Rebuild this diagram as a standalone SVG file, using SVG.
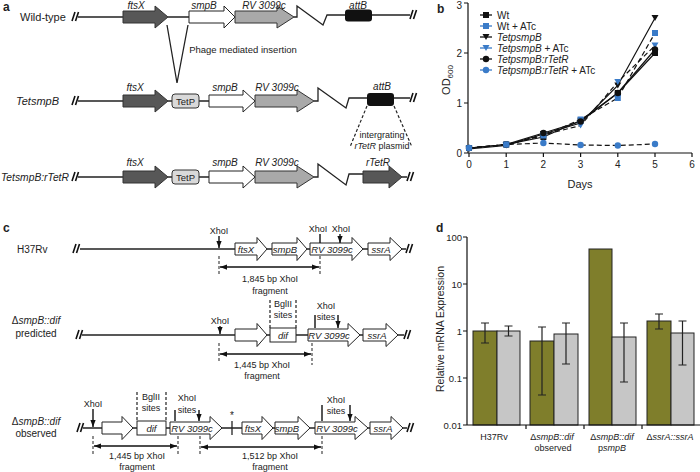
<svg xmlns="http://www.w3.org/2000/svg" width="700" height="472" viewBox="0 0 700 472">
<defs>
<marker id="ah" viewBox="0 0 8 6" refX="8" refY="3" markerWidth="7" markerHeight="5.5" markerUnits="userSpaceOnUse" orient="auto-start-reverse"><path d="M0,0 L8,3 L0,6 Z" fill="#111"/></marker>
<style>
text{font-family:"Liberation Sans",Arial,sans-serif;fill:#222}
.pl{font-size:12px;font-weight:bold}
.rl{font-size:11px}
.gl{font-size:10px;font-style:italic}
.s{font-size:9px}
.m{text-anchor:middle}
.e{text-anchor:end}
.it{font-style:italic}
.ln{stroke:#222;stroke-width:1.3;fill:none}
.brk{stroke:#111;stroke-width:1.6;fill:none}
.dk{fill:#575757;stroke:#333;stroke-width:1}
.wh{fill:#fff;stroke:#222;stroke-width:1}
.gy{fill:#a9a9a9;stroke:#333;stroke-width:1}
.ds{stroke:#222;stroke-width:1.2;stroke-dasharray:3,2;fill:none}
.dsg{stroke:#555;stroke-width:1.3;stroke-dasharray:3,2;fill:none}
.arr{stroke:#111;stroke-width:1.4;fill:none;marker-end:url(#ah)}
.darr{stroke:#111;stroke-width:1.4;fill:none;marker-end:url(#ah);marker-start:url(#ah)}
.ax{stroke:#111;stroke-width:1.2;fill:none}
.dl{stroke:#111;stroke-width:1.2;fill:none}
.dd{stroke:#111;stroke-width:1.2;fill:none;stroke-dasharray:5,3}
.bk{fill:#111}
.bl{fill:#3a7bc8}
.ol{fill:#7f7e2b;stroke:#222;stroke-width:1}
.gr{fill:#c6c6c6;stroke:#222;stroke-width:1}
.eb{stroke:#222;stroke-width:1.2;fill:none}
</style>
</defs>

<!-- Panel a -->
<g id="panel-a">
<text class="pl" x="3" y="11">a</text>
<g id="a-row1">
<text class="rl" x="20" y="21">Wild-type</text>
<path class="brk" d="M72,21 L75,12 M75.5,21 L78.5,12"/>
<path class="ln" d="M78,17 H123 M168,17 H189 M294,17 H297 V6 L323,25 L327,15 H345 M372,15 H410"/>
<path class="brk" d="M410,19 L413,10 M413.5,19 L416.5,10"/>
<path class="dk" d="M123,11 H155 V6 L168,17 L155,28 V23 H123 Z"/>
<path class="wh" d="M189,11 H224 V6 L235,17 L224,28 V23 H189 Z"/>
<path class="gy" d="M235,11 H277 V6 L294,17 L277,28 V23 H235 Z"/>
<rect x="345" y="9.5" width="27" height="12" rx="3" fill="#111"/>
<text class="gl m" x="136" y="9">ftsX</text>
<text class="gl m" x="204" y="9">smpB</text>
<text class="gl m" x="264" y="9">RV 3099c</text>
<text class="gl m" x="358" y="9">attB</text>
</g>
<g id="a-insertion">
<path class="ln" d="M167,25 L177,83 L188,25"/>
<text class="s m" x="243" y="53" style="font-size:9.5px">Phage mediated insertion</text>
</g>
<g id="a-row2">
<text class="rl it" x="16" y="105">TetsmpB</text>
<path class="brk" d="M72,105 L75,96 M75.5,105 L78.5,96"/>
<path class="ln" d="M78,101 H123 M168,101 H172 M199,101 H209 M314,101 H318 V88 L346,108 L349,98 H367 M394,98 H410"/>
<path class="brk" d="M410,102 L413,93 M413.5,102 L416.5,93"/>
<path class="dk" d="M123,95 H155 V90 L168,101 L155,112 V107 H123 Z"/>
<rect x="172" y="94" width="27" height="14" rx="3" fill="#d9d9d9" stroke="#333"/>
<text class="s m" x="185.5" y="104.5" style="font-size:9.5px">TetP</text>
<path class="wh" d="M209,95 H243 V90 L255,101 L243,112 V107 H209 Z"/>
<path class="gy" d="M255,95 H297 V90 L314,101 L297,112 V107 H255 Z"/>
<rect x="367" y="93" width="27" height="13" rx="3" fill="#111"/>
<text class="gl m" x="135" y="91">ftsX</text>
<text class="gl m" x="225" y="91">smpB</text>
<text class="gl m" x="277" y="91">RV 3099c</text>
<text class="gl m" x="382" y="90">attB</text>
<path class="ds" d="M367,106 L350,147 M394,106 L412,147"/>
<text class="s m" x="382" y="138">intergrating</text>
<text class="s m" x="382" y="149"><tspan class="it">rTetR</tspan> plasmid</text>
</g>
<g id="a-row3">
<text class="it" x="1" y="181" style="font-size:10.3px">TetsmpB:rTetR</text>
<path class="brk" d="M72,181 L75,172 M75.5,181 L78.5,172"/>
<path class="ln" d="M78,177 H123 M168,177 H172 M199,177 H209 M314,177 H318 V164 L346,185 L349,174 H363 M402,177 H407"/>
<path class="brk" d="M407,181 L410,172 M410.5,181 L413.5,172"/>
<path class="dk" d="M123,171 H155 V166 L168,177 L155,188 V183 H123 Z"/>
<rect x="172" y="170" width="27" height="14" rx="3" fill="#d9d9d9" stroke="#333"/>
<text class="s m" x="185.5" y="180.5" style="font-size:9.5px">TetP</text>
<path class="wh" d="M209,171 H243 V166 L255,177 L243,188 V183 H209 Z"/>
<path class="gy" d="M255,171 H297 V166 L314,177 L297,188 V183 H255 Z"/>
<path class="dk" d="M363,171 H389 V166 L402,177 L389,188 V183 H363 Z"/>
<text class="gl m" x="135" y="166">ftsX</text>
<text class="gl m" x="225" y="166">smpB</text>
<text class="gl m" x="277" y="166">RV 3099c</text>
<text class="gl m" x="378" y="166">rTetR</text>
</g>
</g>

<!-- Panel b -->
<g id="panel-b">
<text class="pl" x="437" y="13">b</text>
<path class="ax" d="M468,3 V153 H692 M464,3 H468 M464,53 H468 M464,103 H468 M464,153 H468 M469,153 V157 M506.2,153 V157 M543.4,153 V157 M580.6,153 V157 M617.8,153 V157 M655,153 V157 M692,153 V157"/>
<g class="s" style="font-size:10px">
<text class="e" x="462" y="9">3</text><text class="e" x="462" y="57">2</text><text class="e" x="462" y="107">1</text><text class="e" x="462" y="157">0</text>
<text class="m" x="469" y="168">0</text><text class="m" x="506.2" y="168">1</text><text class="m" x="543.4" y="168">2</text><text class="m" x="580.6" y="168">3</text><text class="m" x="617.8" y="168">4</text><text class="m" x="655" y="168">5</text><text class="m" x="692" y="168">6</text>
</g>
<text class="m" x="580" y="188" style="font-size:11px">Days</text>
<text class="m" transform="translate(450,80) rotate(-90)" style="font-size:11px">OD<tspan dy="3" style="font-size:8px">600</tspan></text>
<g id="b-lines">
<polyline class="dl" points="469,148 506.2,144.5 543.4,137 580.6,120.5 617.8,93 655,53"/>
<polyline class="dd" points="469,148 506.2,144.5 543.4,135.5 580.6,119.5 617.8,98 655,33"/>
<polyline class="dl" points="469,149 506.2,145.5 543.4,134 580.6,123 617.8,85.5 655,18"/>
<polyline class="dd" points="469,148 506.2,145 543.4,135 580.6,125.5 617.8,82 655,45.5"/>
<polyline class="dl" points="469,148 506.2,144.5 543.4,133 580.6,121.5 617.8,93 655,49.5"/>
<polyline class="dd" points="469,148 506.2,144.5 543.4,143 580.6,145 617.8,145.5 655,144"/>
</g>
<g id="b-markers">
<g class="bk"><rect x="466" y="145" width="6" height="6"/><rect x="503.2" y="141.5" width="6" height="6"/><rect x="540.4" y="134" width="6" height="6"/><rect x="577.6" y="117.5" width="6" height="6"/><rect x="614.8" y="90" width="6" height="6"/><rect x="652" y="50" width="6" height="6"/></g>
<g class="bl"><rect x="466" y="145" width="6" height="6"/><rect x="503.2" y="141.5" width="6" height="6"/><rect x="540.4" y="132.5" width="6" height="6"/><rect x="577.6" y="116.5" width="6" height="6"/><rect x="614.8" y="95" width="6" height="6"/><rect x="652" y="30" width="6" height="6"/></g>
<g class="bk"><path d="M465.5,146 h7 l-3.5,6 z M502.7,142.5 h7 l-3.5,6 z M539.9,131 h7 l-3.5,6 z M577.1,120 h7 l-3.5,6 z M614.3,82.5 h7 l-3.5,6 z M651.5,15 h7 l-3.5,6 z"/></g>
<g class="bl"><path d="M465.5,145 h7 l-3.5,6 z M502.7,142 h7 l-3.5,6 z M539.9,132 h7 l-3.5,6 z M577.1,122.5 h7 l-3.5,6 z M614.3,79 h7 l-3.5,6 z M651.5,42.5 h7 l-3.5,6 z"/></g>
<g class="bk"><circle cx="469" cy="148" r="3.2"/><circle cx="506.2" cy="144.5" r="3.2"/><circle cx="543.4" cy="133" r="3.2"/><circle cx="580.6" cy="121.5" r="3.2"/><circle cx="617.8" cy="93" r="3.2"/><circle cx="655" cy="49.5" r="3.2"/></g>
<g class="bl"><circle cx="469" cy="148" r="3.2"/><circle cx="506.2" cy="144.5" r="3.2"/><circle cx="543.4" cy="143" r="3.2"/><circle cx="580.6" cy="145" r="3.2"/><circle cx="617.8" cy="145.5" r="3.2"/><circle cx="655" cy="144" r="3.2"/></g>
</g>
<g id="b-legend" style="font-size:10px">
<path d="M480,15 H492" stroke="#111" stroke-width="1.3"/><rect x="483" y="12" width="6" height="6" class="bk"/><text x="497" y="18.5" class="s" style="font-size:10px">Wt</text>
<path d="M480,26 H492" stroke="#3a7bc8" stroke-width="1.3"/><rect x="483" y="23" width="6" height="6" class="bl"/><text x="497" y="29.5" class="s" style="font-size:10px">Wt + ATc</text>
<path d="M480,37 H492" stroke="#111" stroke-width="1.3"/><path d="M482.5,34 h7 l-3.5,6 z" class="bk"/><text x="497" y="40.5" class="s it" style="font-size:10px">TetpsmpB</text>
<path d="M480,48 H492" stroke="#3a7bc8" stroke-width="1.3"/><path d="M482.5,45 h7 l-3.5,6 z" class="bl"/><text x="497" y="51.5" class="s" style="font-size:10px"><tspan class="it">TetpsmpB</tspan> + ATc</text>
<path d="M480,59 H492" stroke="#111" stroke-width="1.3"/><circle cx="486" cy="59" r="3.2" class="bk"/><text x="497" y="62.5" class="s it" style="font-size:10px">TetpsmpB:rTetR</text>
<path d="M480,70 H492" stroke="#3a7bc8" stroke-width="1.3"/><circle cx="486" cy="70" r="3.2" class="bl"/><text x="497" y="73.5" class="s" style="font-size:10px"><tspan class="it">TetpsmpB:rTetR</tspan> + ATc</text>
</g>
</g>

<!-- Panel c -->
<g id="panel-c">
<text class="pl" x="3" y="232">c</text>
<g id="c-row1">
<text class="s" x="17" y="253" style="font-size:10px">H37Rv</text>
<path class="brk" d="M73,253 L76,244 M76.5,253 L79.5,244"/>
<path class="ln" d="M80,249 H235 M267,249 H272 M307,249 H310 M363,249 H368 M402,249 H406"/>
<path class="brk" d="M406,253 L409,244 M409.5,253 L412.5,244"/>
<path class="wh" d="M235,243 H257 V237.5 L267,249 L257,260.5 V255 H235 Z"/>
<path class="wh" d="M272,243 H297 V237.5 L307,249 L297,260.5 V255 H272 Z"/>
<path class="wh" d="M310,243 H352 V237.5 L363,249 L352,260.5 V255 H310 Z"/>
<path class="wh" d="M368,243 H390 V237.5 L402,249 L390,260.5 V255 H368 Z"/>
<text class="gl m" x="246" y="252.5" style="font-size:9.5px">ftsX</text>
<text class="gl m" x="285" y="252.5" style="font-size:9.5px">smpB</text>
<text class="gl m" x="332" y="252.5" style="font-size:9.5px">RV 3099c</text>
<text class="gl m" x="381" y="252.5" style="font-size:9.5px">ssrA</text>
<text class="s m" x="219" y="234">XhoI</text>
<path class="arr" d="M219,236 V248"/>
<text class="s m" x="318" y="232">XhoI</text>
<text class="s m" x="341" y="232">XhoI</text>
<path class="arr" d="M320,234 V243 M340,234 V243"/>
<path class="dsg" d="M219,256 V275 M320,256 V275"/>
<path class="darr" d="M220,267 H319"/>
<text class="s m" x="270" y="282">1,845 bp XhoI</text>
<text class="s m" x="270" y="294">fragment</text>
</g>
<g id="c-row2">
<text class="s m" x="36" y="324" style="font-size:10px">Δ<tspan class="it">smpB::dif</tspan></text>
<text class="s m" x="36" y="337" style="font-size:10px">predicted</text>
<path class="brk" d="M76,339 L79,330 M79.5,339 L82.5,330"/>
<path class="ln" d="M82,335 H235 M267,335 H270 M296,335 H308 M360,335 H363 M398,335 H404"/>
<path class="brk" d="M404,339 L407,330 M407.5,339 L410.5,330"/>
<text class="s m" x="220" y="324">XhoI</text>
<path class="arr" d="M220,326 V334"/>
<path class="wh" d="M235,329 H257 V323.5 L267,335 L257,346.5 V341 H235 Z"/>
<rect class="wh" x="270" y="328" width="26" height="14"/>
<text class="gl m" x="283" y="338.5" style="font-size:9.5px">dif</text>
<path class="ds" d="M270,300 V328 M296,300 V328"/>
<text class="s m" x="283" y="307">BglII</text>
<text class="s m" x="283" y="318">sites</text>
<path class="wh" d="M308,329 H348 V323.5 L360,335 L348,346.5 V341 H308 Z"/>
<path class="wh" d="M363,329 H386 V323.5 L398,335 L386,346.5 V341 H363 Z"/>
<text class="gl m" x="329" y="338.5" style="font-size:9.5px">RV 3099c</text>
<text class="gl m" x="377" y="338.5" style="font-size:9.5px">ssrA</text>
<text class="s m" x="326" y="309">XhoI</text>
<text class="s m" x="326" y="320">sites</text>
<path class="arr" d="M315,315 V328 M338,315 V328"/>
<path class="dsg" d="M219,343 V362 M312,343 V365"/>
<path class="darr" d="M220,354 H311"/>
<text class="s m" x="262" y="368">1,445 bp XhoI</text>
<text class="s m" x="262" y="379">fragment</text>
</g>
<g id="c-row3">
<text class="s m" x="36" y="425" style="font-size:10px">Δ<tspan class="it">smpB::dif</tspan></text>
<text class="s m" x="36" y="437" style="font-size:10px">observed</text>
<path class="brk" d="M77,432 L80,423 M80.5,432 L83.5,423"/>
<path class="ln" d="M83,428 H102 M133,428 H137 M166,428 H170 M222,428 H242 M273,428 H275 M310,428 H315 M368,428 H370 M403,428 H407"/>
<path class="ln" d="M232,421 V435"/>
<text class="s m" x="232" y="419" style="font-size:10px">*</text>
<path class="brk" d="M407,432 L410,423 M410.5,432 L413.5,423"/>
<text class="s m" x="93" y="407">XhoI</text>
<path class="arr" d="M93,409 V427"/>
<path class="wh" d="M102,422 H122 V416.5 L133,428 L122,439.5 V434 H102 Z"/>
<rect class="wh" x="137" y="421" width="29" height="14"/>
<text class="gl m" x="151.5" y="431.5" style="font-size:9.5px">dif</text>
<path class="ds" d="M137,392 V421 M166,392 V421"/>
<text class="s m" x="151" y="400">BglII</text>
<text class="s m" x="151" y="411">sites</text>
<path class="wh" d="M170,422 H210 V416.5 L222,428 L210,439.5 V434 H170 Z"/>
<text class="gl m" x="192" y="431.5" style="font-size:9.5px">RV 3099c</text>
<text class="s m" x="187" y="401">XhoI</text>
<text class="s m" x="187" y="413">sites</text>
<path class="arr" d="M175,410 V421 M199,410 V421"/>
<path class="wh" d="M242,422 H262 V416.5 L273,428 L262,439.5 V434 H242 Z"/>
<path class="wh" d="M275,422 H298 V416.5 L310,428 L298,439.5 V434 H275 Z"/>
<path class="wh" d="M315,422 H355 V416.5 L368,428 L355,439.5 V434 H315 Z"/>
<path class="wh" d="M370,422 H391 V416.5 L403,428 L391,439.5 V434 H370 Z"/>
<text class="gl m" x="253" y="431.5" style="font-size:9.5px">ftsX</text>
<text class="gl m" x="287" y="431.5" style="font-size:9.5px">smpB</text>
<text class="gl m" x="337" y="431.5" style="font-size:9.5px">RV 3099c</text>
<text class="gl m" x="383" y="431.5" style="font-size:9.5px">ssrA</text>
<text class="s m" x="336" y="403">XhoI</text>
<text class="s m" x="336" y="414">sites</text>
<path class="arr" d="M322,405 V421 M350,405 V421"/>
<path class="dsg" d="M93,436 V454 M178,436 V454 M200,436 V454 M322,436 V454"/>
<path class="darr" d="M94,446 H177"/>
<path class="darr" d="M201,447 H321"/>
<text class="s m" x="137" y="459">1,445 bp XhoI</text>
<text class="s m" x="137" y="470">fragment</text>
<text class="s m" x="270" y="459">1,512 bp XhoI</text>
<text class="s m" x="270" y="470">fragment</text>
</g>
</g>

<!-- Panel d -->
<g id="panel-d">
<text class="pl" x="436" y="232">d</text>
<text class="m" transform="translate(444,329) rotate(-90)" style="font-size:10.5px">Relative mRNA Expression</text>
<g id="d-bars">
<rect class="ol" x="473" y="331" width="24" height="94"/>
<rect class="gr" x="497" y="331" width="23" height="94"/>
<rect class="ol" x="530" y="341" width="24" height="84"/>
<rect class="gr" x="554" y="334" width="24" height="91"/>
<rect class="ol" x="589" y="249" width="23" height="176"/>
<rect class="gr" x="612" y="337" width="24" height="88"/>
<rect class="ol" x="647" y="321" width="24" height="104"/>
<rect class="gr" x="671" y="333" width="23" height="92"/>
</g>
<path class="eb" d="M485,323 V343 M481,323 H489 M481,343 H489 M508.5,326 V336 M504.5,326 H512.5 M504.5,336 H512.5 M542,327 V395 M538,327 H546 M538,395 H546 M566,323 V364 M562,323 H570 M562,364 H570 M624,323 V382 M620,323 H628 M620,382 H628 M659,314 V329 M655,314 H663 M655,329 H663 M682.5,321 V365 M678.5,321 H686.5 M678.5,365 H686.5"/>
<path class="ax" d="M467,237 V425 H700 M463,237 H467 M463,284 H467 M463,331 H467 M463,378 H467 M463,425 H467 M526,425 V429 M584,425 V429 M642,425 V429"/>
<g class="s" style="font-size:9.5px">
<text class="e" x="462" y="240.5">100</text>
<text class="e" x="462" y="287.5">10</text>
<text class="e" x="462" y="334.5">1</text>
<text class="e" x="462" y="381.5">0.1</text>
<text class="e" x="462" y="428.5">0.01</text>
</g>
<g class="s" style="font-size:9px">
<text class="m" x="494" y="440">H37Rv</text>
<text class="m" x="552" y="440">Δ<tspan class="it">smpB::dif</tspan></text>
<text class="m" x="553" y="451">observed</text>
<text class="m" x="612" y="440">Δ<tspan class="it">smpB::dif</tspan></text>
<text class="m" x="612" y="451">p<tspan class="it">smpB</tspan></text>
<text class="m" x="670" y="440">Δ<tspan class="it">ssrA::ssrA</tspan></text>
</g>
</g>
</svg>
